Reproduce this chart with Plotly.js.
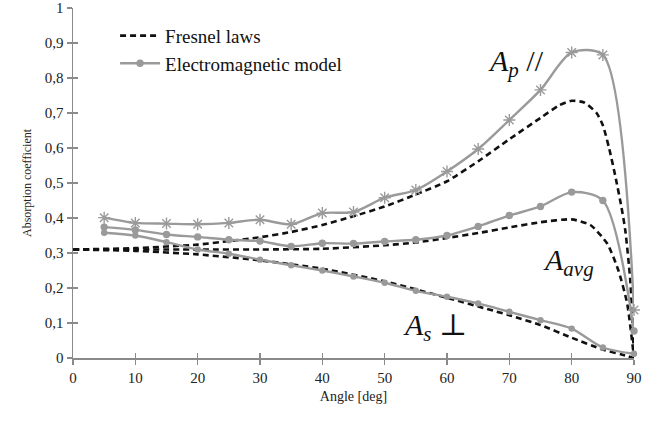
<!DOCTYPE html>
<html>
<head>
<meta charset="utf-8">
<script src="https://cdn.plot.ly/plotly-3.0.1.min.js"></script>
<style>html,body{margin:0;padding:0;background:#fff;}#chart{width:645px;height:425px;}</style>
</head>
<body>
<div id="chart"></div>
<script>
// Electromagnetic model (grey, markers)
const emAngles = [5,10,15,20,25,30,35,40,45,50,55,60,65,70,75,80,85,90];
const emAp  = [0.401,0.386,0.384,0.382,0.386,0.395,0.382,0.414,0.417,0.458,0.480,0.533,0.597,0.680,0.766,0.873,0.866,0.137];
const emAvg = [0.374,0.366,0.353,0.346,0.338,0.334,0.319,0.328,0.327,0.333,0.338,0.350,0.376,0.407,0.433,0.474,0.450,0.077];
const emAs  = [0.358,0.350,0.331,0.310,0.298,0.281,0.265,0.250,0.233,0.215,0.192,0.175,0.156,0.132,0.108,0.084,0.030,0.012];

// Fresnel laws (black dashed)
const frApAngles = [0,10,20,25,30,35,40,45,50,55,60,65,70,75,78,80,82,84,85,86,87,88,88.6,89.4,90];
const frAp = [0.310,0.314,0.324,0.334,0.345,0.360,0.380,0.405,0.433,0.467,0.505,0.562,0.625,0.686,0.722,0.735,0.730,0.700,0.665,0.600,0.520,0.430,0.365,0.222,0.0];
const frAvgAngles = [0,20,30,40,50,55,60,65,70,75,80,83,85.7,87.5,88.9,90];
const frAvg = [0.310,0.310,0.310,0.312,0.322,0.330,0.343,0.357,0.373,0.388,0.396,0.380,0.327,0.250,0.156,0.0];
const frAsAngles = [0,10,20,30,40,50,60,70,75,80,85,88,90];
const frAs = [0.310,0.306,0.296,0.279,0.255,0.219,0.172,0.122,0.094,0.058,0.024,0.010,0.0];

const xTicks = [0,10,20,30,40,50,60,70,80,90];
const yTicks = [0,0.1,0.2,0.3,0.4,0.5,0.6,0.7,0.8,0.9,1];
const seriesNames = ['Fresnel laws','Electromagnetic model'];

const grey = '#9a9a9a';
const serif = 'Liberation Serif, DejaVu Serif, serif';

function dashed(x, y, show) {
  return {x: x, y: y, mode: 'lines', name: seriesNames[0], showlegend: show, legendgroup: 'fr',
    line: {color: '#111', width: 2.6, dash: '6px,4px', shape: 'spline', smoothing: 0.6}, cliponaxis: false};
}
function em(x, y, sym, size, show) {
  return {x: x, y: y, mode: 'lines+markers', name: seriesNames[1], showlegend: show, legendgroup: 'em',
    line: {color: grey, width: 2.4, shape: 'spline', smoothing: 0.8},
    marker: {symbol: sym, size: size, color: grey, line: {color: grey, width: 1.4}}, cliponaxis: false};
}

const traces = [
  dashed(frApAngles, frAp, true),
  dashed(frAvgAngles, frAvg, false),
  dashed(frAsAngles, frAs, false),
  em(emAngles, emAp, 'asterisk-open', 10, false),
  em(emAngles, emAvg, 'circle', 6, true),
  em(emAngles, emAs, 'circle', 5, false)
];

const axisCommon = {showgrid: false, zeroline: false, showline: true, linecolor: '#8a8a8a', linewidth: 1.5,
  tickcolor: '#8a8a8a', ticklen: 5, tickwidth: 1.2, ticklabeloverflow: 'allow',
  tickfont: {family: serif, size: 15, color: '#222'}};

const layout = {
  width: 645, height: 425,
  margin: {l: 73, r: 11, t: 8, b: 67},
  paper_bgcolor: '#fff', plot_bgcolor: '#fff',
  separators: ', ',
  font: {family: serif, color: '#222'},
  xaxis: Object.assign({}, axisCommon, {range: [0, 90], tickvals: xTicks, ticks: 'outside',
    title: {text: 'Angle [deg]', font: {family: serif, size: 14, color: '#222'}, standoff: 6}}),
  yaxis: Object.assign({}, axisCommon, {range: [0, 1], tickvals: yTicks, ticks: 'outside',
    title: {text: 'Absorption coefficient', font: {family: serif, size: 12, color: '#222'}, standoff: 10}}),
  xaxis2: Object.assign({}, axisCommon, {range: [0, 90], tickvals: xTicks, ticks: 'inside', overlaying: 'x',
    showticklabels: false, anchor: 'y'}),
  yaxis2: Object.assign({}, axisCommon, {range: [0, 1], tickvals: yTicks, ticks: 'inside', overlaying: 'y',
    showticklabels: false, anchor: 'x'}),
  legend: {x: 0.075, y: 0.975, xanchor: 'left', yanchor: 'top', bgcolor: 'rgba(0,0,0,0)',
    font: {family: serif, size: 19, color: '#111'}, itemwidth: 40, tracegroupgap: 0},
  annotations: [
    {x: 71, y: 0.843, xref: 'x', yref: 'y', showarrow: false, text: '<i>A</i><sub><i>p</i></sub> //',
      font: {family: serif, size: 30, color: '#111'}},
    {x: 79.5, y: 0.275, xref: 'x', yref: 'y', showarrow: false, text: '<i>A</i><sub><i>avg</i></sub>',
      font: {family: serif, size: 30, color: '#111'}},
    {x: 58.1, y: 0.09, xref: 'x', yref: 'y', showarrow: false, text: '<i>A</i><sub><i>s</i></sub> \u22A5',
      font: {family: serif, size: 30, color: '#111'}}
  ]
};

// invisible trace to activate overlay axes for crossing ticks
traces.push({x: [0], y: [0], xaxis: 'x2', yaxis: 'y2', mode: 'markers', marker: {opacity: 0}, showlegend: false, hoverinfo: 'skip'});

Plotly.newPlot('chart', traces, layout, {displayModeBar: false, staticPlot: true});
</script>
</body>
</html>
